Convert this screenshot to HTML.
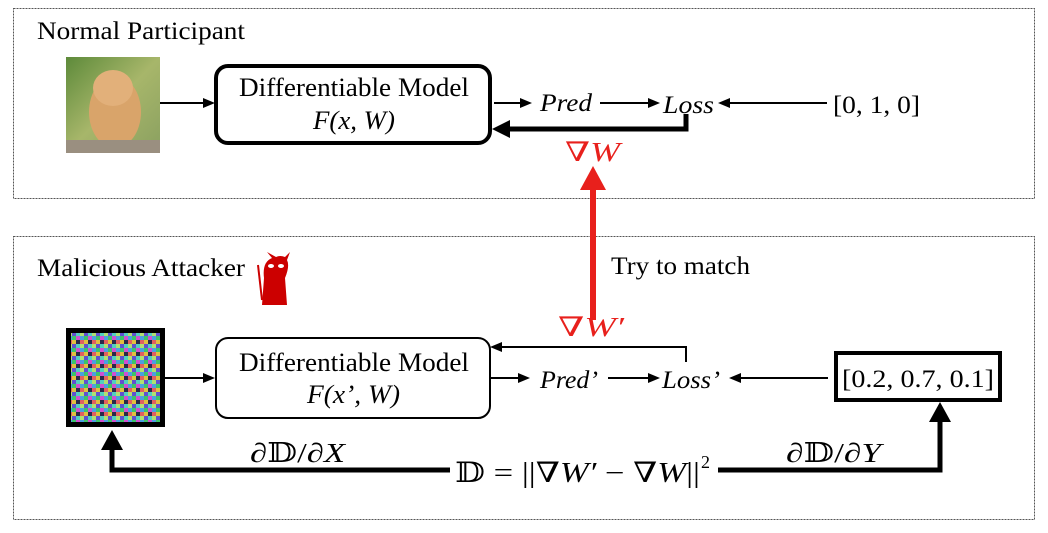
<!DOCTYPE html>
<html><head><meta charset="utf-8"><style>
html,body{margin:0;padding:0;background:#fff;}
svg{display:block;}
</style></head><body>
<svg width="1048" height="533" viewBox="0 0 1048 533" xmlns="http://www.w3.org/2000/svg" font-family="'Liberation Serif', 'DejaVu Serif', serif">
<defs>
<linearGradient id="cat" x1="0" y1="0" x2="1" y2="1">
<stop offset="0" stop-color="#5d8a3a"/><stop offset="0.5" stop-color="#a7b66a"/><stop offset="1" stop-color="#8aa060"/>
</linearGradient>
<pattern id="noise" width="12" height="12" patternUnits="userSpaceOnUse">
<rect width="12" height="12" fill="#7a6a8a"/>
<rect x="0" y="0" width="4" height="4" fill="#3ac46a"/><rect x="4" y="0" width="4" height="4" fill="#d04fd0"/><rect x="8" y="0" width="4" height="4" fill="#4aa0e0"/>
<rect x="0" y="4" width="4" height="4" fill="#e0c040"/><rect x="4" y="4" width="4" height="4" fill="#2a2a4a"/><rect x="8" y="4" width="4" height="4" fill="#e06060"/>
<rect x="0" y="8" width="4" height="4" fill="#6050d0"/><rect x="4" y="8" width="4" height="4" fill="#50d0c0"/><rect x="8" y="8" width="4" height="4" fill="#b0e070"/>
</pattern>
</defs>
<rect x="13.5" y="8.5" width="1021" height="190" fill="none" stroke="#555" stroke-dasharray="2,1"/>
<rect x="13.5" y="236.5" width="1021" height="283" fill="none" stroke="#555" stroke-dasharray="2,1"/>
<text x="37" y="39" font-size="25" textLength="208" lengthAdjust="spacingAndGlyphs">Normal Participant</text>
<rect x="66" y="57" width="94" height="96" fill="url(#cat)"/>
<ellipse cx="115" cy="112" rx="26" ry="36" fill="#d9a46a"/>
<ellipse cx="113" cy="88" rx="20" ry="18" fill="#e2b07a"/>
<rect x="66" y="140" width="94" height="13" fill="#9a8f80"/>
<rect x="216" y="66" width="274" height="77" rx="12" fill="none" stroke="#000" stroke-width="4"/>
<text x="239" y="96" font-size="26" textLength="230" lengthAdjust="spacingAndGlyphs">Differentiable Model</text>
<text x="313" y="129" font-size="26" font-style="italic" textLength="82" lengthAdjust="spacingAndGlyphs">F(x, W)</text>
<g stroke="#000" stroke-width="2">
<line x1="160" y1="103" x2="205" y2="103"/><line x1="494" y1="103" x2="522" y2="103"/>
<line x1="600" y1="103" x2="650" y2="103"/><line x1="827" y1="103" x2="730" y2="103"/>
</g>
<polygon points="215,103 203,98 203,108"/><polygon points="532,103 520,98 520,108"/>
<polygon points="660,103 648,98 648,108"/><polygon points="718,103 730,98 730,108"/>
<text x="540" y="111" font-size="25" font-style="italic" textLength="52" lengthAdjust="spacingAndGlyphs">Pred</text>
<text x="663" y="113" font-size="25" font-style="italic" textLength="51" lengthAdjust="spacingAndGlyphs">Loss</text>
<text x="833" y="113" font-size="25" textLength="87" lengthAdjust="spacingAndGlyphs">[0, 1, 0]</text>
<polyline points="686,114 686,129 505,129" fill="none" stroke="#000" stroke-width="5"/>
<polygon points="492,129 510,120 510,138"/>
<text x="565" y="161" font-size="27" fill="#e8201c" textLength="55" lengthAdjust="spacingAndGlyphs">∇<tspan font-style="italic">W</tspan></text>
<line x1="593" y1="320" x2="593" y2="186" stroke="#e8201c" stroke-width="6"/>
<polygon points="593,166 580,190 606,190" fill="#e8201c"/>
<text x="611" y="274" font-size="25" textLength="139" lengthAdjust="spacingAndGlyphs">Try to match</text>
<text x="37" y="276" font-size="25" textLength="208" lengthAdjust="spacingAndGlyphs">Malicious Attacker</text>
<g fill="#c00">
<path d="M262,305 L264,278 Q262,262 272,258 L267,252 L276,257 Q280,255 285,257 L290,252 L287,260 Q290,266 285,278 L287,305 Z"/>
<line x1="258" y1="265" x2="262" y2="300" stroke="#c00" stroke-width="2"/>
</g>
<ellipse cx="271" cy="266" rx="3" ry="2" fill="#fff"/><ellipse cx="281" cy="266" rx="3" ry="2" fill="#fff"/>
<rect x="68.5" y="330.5" width="94" height="94" fill="url(#noise)" stroke="#000" stroke-width="5"/>
<rect x="216" y="338" width="274" height="80" rx="12" fill="none" stroke="#000" stroke-width="2"/>
<text x="239" y="371" font-size="26" textLength="230" lengthAdjust="spacingAndGlyphs">Differentiable Model</text>
<text x="307" y="403" font-size="26" font-style="italic" textLength="93" lengthAdjust="spacingAndGlyphs">F(x’, W)</text>
<g stroke="#000" stroke-width="2">
<line x1="164" y1="378" x2="205" y2="378"/><line x1="490" y1="378" x2="520" y2="378"/>
<line x1="608" y1="378" x2="650" y2="378"/><line x1="828" y1="378" x2="740" y2="378"/>
<polyline points="686,362 686,347 502,347" fill="none"/>
</g>
<polygon points="215,378 203,373 203,383"/><polygon points="530,378 518,373 518,383"/>
<polygon points="660,378 648,373 648,383"/><polygon points="729,378 741,373 741,383"/>
<polygon points="490,347 502,342 502,352"/>
<text x="540" y="388" font-size="25" font-style="italic" textLength="58" lengthAdjust="spacingAndGlyphs">Pred’</text>
<text x="662" y="388" font-size="25" font-style="italic" textLength="58" lengthAdjust="spacingAndGlyphs">Loss’</text>
<text x="558" y="336" font-size="27" fill="#e8201c" textLength="66" lengthAdjust="spacingAndGlyphs">∇<tspan font-style="italic">W′</tspan></text>
<rect x="836" y="353" width="164" height="47" fill="none" stroke="#000" stroke-width="4"/>
<text x="842" y="387" font-size="25" textLength="152" lengthAdjust="spacingAndGlyphs">[0.2, 0.7, 0.1]</text>
<polyline points="450,470 112,470 112,448" fill="none" stroke="#000" stroke-width="5"/>
<polygon points="112,430 101,450 123,450"/>
<polyline points="718,470 940,470 940,418" fill="none" stroke="#000" stroke-width="5"/>
<polygon points="940,402 929,422 951,422"/>
<text x="250" y="462" font-size="27" textLength="95" lengthAdjust="spacingAndGlyphs">∂𝔻/∂<tspan font-style="italic">X</tspan></text>
<text x="786" y="462" font-size="27" textLength="95" lengthAdjust="spacingAndGlyphs">∂𝔻/∂<tspan font-style="italic">Y</tspan></text>
<text x="455" y="482" font-size="28" textLength="245" lengthAdjust="spacingAndGlyphs">𝔻 = ||∇<tspan font-style="italic">W′</tspan> − ∇<tspan font-style="italic">W</tspan>||</text>
<text x="701" y="468" font-size="18">2</text>
</svg>
</body></html>
